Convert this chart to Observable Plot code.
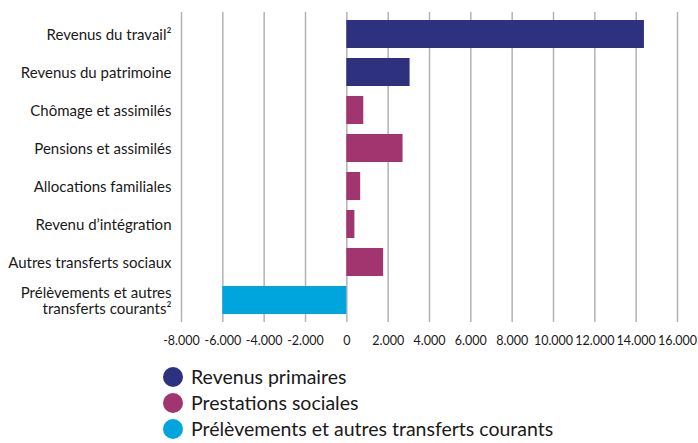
<!DOCTYPE html>
<html>
<head>
<meta charset="utf-8">
<script src="https://cdn.jsdelivr.net/npm/d3@7"></script>
<script src="https://cdn.jsdelivr.net/npm/@observablehq/plot@0.6"></script>
<style>
  body { margin: 0; background: #fff; font-family: Lato, "Noto Sans", sans-serif; overflow: hidden; }
  #chart svg { display: block; }
  #legend { margin-left: 163px; margin-top: 15px; }
  .item { display: flex; align-items: center; height: 20px; line-height: 20px; margin-bottom: 6px; font-size: 19.5px; color: #1a1a1a; }
  .dot { width: 20px; height: 20px; border-radius: 50%; margin-right: 8px; flex: none; }
</style>
</head>
<body>
<div id="chart"></div>
<div id="legend"></div>
<script>
const categories = [
  "Revenus du travail²",
  "Revenus du patrimoine",
  "Chômage et assimilés",
  "Pensions et assimilés",
  "Allocations familiales",
  "Revenu d’intégration",
  "Autres transferts sociaux",
  "Prélèvements et autres\ntransferts courants²"
];
const values = [14400, 3060, 820, 2720, 670, 390, 1780, -6000];
const groups = [
  "Revenus primaires", "Revenus primaires",
  "Prestations sociales", "Prestations sociales", "Prestations sociales",
  "Prestations sociales", "Prestations sociales",
  "Prélèvements et autres transferts courants"
];
const groupNames = ["Revenus primaires", "Prestations sociales", "Prélèvements et autres transferts courants"];
const groupColors = ["#2e3180", "#a2346f", "#00a5de"];
const xTicks = [-8000, -6000, -4000, -2000, 0, 2000, 4000, 6000, 8000, 10000, 12000, 14000, 16000];

const data = categories.map((c, i) => ({category: c, value: values[i], group: groups[i]}));
const fmt = d3.formatLocale({thousands: ".", decimal: ",", grouping: [3], currency: ["", ""], minus: "-"}).format(",");

const chart = Plot.plot({
  width: 698,
  height: 352,
  marginTop: 12,
  marginBottom: 30,
  marginLeft: 181,
  marginRight: 21,
  style: {fontFamily: "Lato, 'Noto Sans', sans-serif", fontSize: "13px", color: "#1a1a1a"},
  x: {domain: [-8000, 16000], ticks: xTicks, tickFormat: fmt, label: null},
  y: {domain: categories, label: null, paddingInner: 0.264, paddingOuter: 0.11},
  color: {domain: groupNames, range: groupColors},
  marks: [
    Plot.gridX(xTicks, {stroke: "#b3b3b3", strokeOpacity: 1, strokeWidth: 1.5}),
    Plot.axisX({ticks: xTicks, tickFormat: fmt, tickSize: 0, tickPadding: 14, fontSize: 12.5, label: null}),
    Plot.axisY({tickSize: 0, tickPadding: 10, fontSize: 15, label: null, lineHeight: 1.1}),
    Plot.barX(data, {y: "category", x: "value", fill: "group"}),
    Plot.ruleY([0], {frameAnchor: "bottom", stroke: "#b3b3b3", strokeWidth: 1.5})
  ]
});
document.getElementById("chart").appendChild(chart);

const legend = document.getElementById("legend");
groupNames.forEach((g, i) => {
  const item = document.createElement("div");
  item.className = "item";
  const dot = document.createElement("span");
  dot.className = "dot";
  dot.style.background = groupColors[i];
  const label = document.createElement("span");
  label.textContent = g;
  item.appendChild(dot);
  item.appendChild(label);
  legend.appendChild(item);
});
</script>
</body>
</html>
